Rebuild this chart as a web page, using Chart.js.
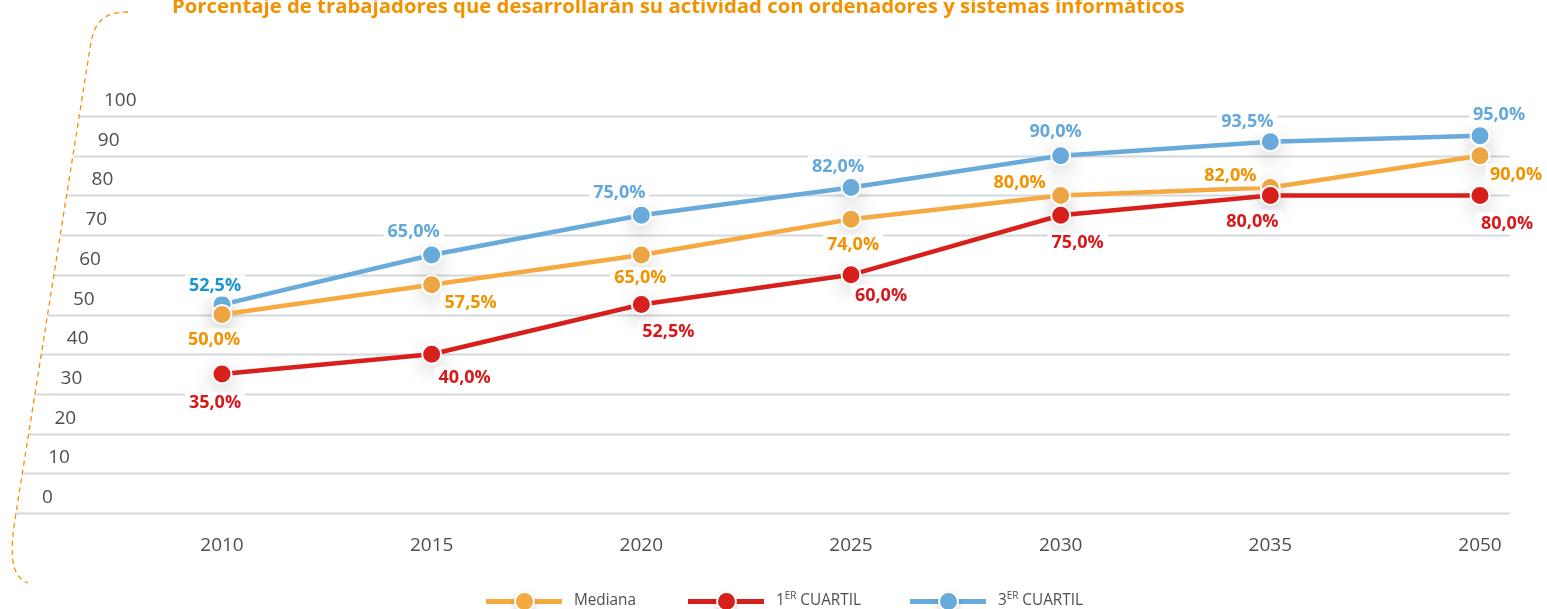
<!DOCTYPE html>
<html>
<head>
<meta charset="utf-8">
<script src="https://cdn.jsdelivr.net/npm/chart.js@4.4.1/dist/chart.umd.min.js"></script>
<style>
html, body { margin: 0; padding: 0; background: #fff; overflow: hidden; }
#wrap { position: relative; width: 1547px; height: 609px; }
#chart { position: absolute; left: 0; top: 0; }
#title { position: absolute; left: 172px; top: -8px; font: bold 20px "Open Sans"; color: #f39200;
         white-space: nowrap; transform-origin: 0 0; }
.key { position: absolute; top: 588px; height: 24px; font: 17px "Open Sans"; color: #4d4e50; white-space: nowrap; }
.key .seg { position: absolute; left: 0; top: 11px; width: 76px; height: 5px; }
.key .dot { position: absolute; left: 28px; top: 3px; width: 17px; height: 17px; border-radius: 50%;
            border: 2px solid #fff; box-shadow: 0 3px 6px rgba(0,0,0,0.18); }
.key .txt { position: absolute; left: 88px; top: -1px; transform-origin: 0 50%; transform: scaleX(0.9); }
.key sup { font-size: 11px; vertical-align: 6px; line-height: 0; }
</style>
</head>
<body>
<div id="wrap">
  <canvas id="chart" width="1547" height="609"></canvas>
  <div id="title">Porcentaje de trabajadores que desarrollarán su actividad con ordenadores y sistemas informáticos</div>
  <div class="key" style="left:486px"><div class="seg" style="background:#f4a941"></div><div class="dot" style="background:#f4a941"></div><span class="txt">Mediana</span></div>
  <div class="key" style="left:688px"><div class="seg" style="background:#d7201b"></div><div class="dot" style="background:#d7201b"></div><span class="txt">1<sup>ER</sup> CUARTIL</span></div>
  <div class="key" style="left:910px"><div class="seg" style="background:#68aad9"></div><div class="dot" style="background:#68aad9"></div><span class="txt">3<sup>ER</sup> CUARTIL</span></div>
</div>
<script>
const years = ['2010', '2015', '2020', '2025', '2030', '2035', '2050'];
const mediana = [50, 57.5, 65, 74, 80, 82, 90];
const cuartil1 = [35, 40, 52.5, 60, 75, 80, 80];
const cuartil3 = [52.5, 65, 75, 82, 90, 93.5, 95];
const yTicks = [0, 10, 20, 30, 40, 50, 60, 70, 80, 90, 100];

// where each value label sits relative to its point (dx, dy)
const offMediana = [[-8, 25], [39, 18], [-1, 23], [2, 26], [-41, -13], [-40, -12], [36, 19]];
const offCuartil1 = [[-7, 29], [33, 24], [27, 27], [30, 21], [17, 28], [-18, 26], [27, 28]];
const offCuartil3 = [[-7, -19], [-18, -23], [-22, -22], [-13, -21], [-5, -24], [-23, -20], [19, -21]];

const fmt = v => v.toFixed(1).replace('.', ',') + '%';

// squeeze the title to its width in the picture
const title = document.getElementById('title');
title.style.transform = 'scaleX(' + (1013 / title.offsetWidth) + ')';

const backdrop = {
    id: 'backdrop',
    beforeDatasetsDraw(chart) {
        const ctx = chart.ctx;
        const y = chart.scales.y;
        const right = chart.chartArea.right + 30;
        ctx.save();
        // gridlines start on the slanted edge
        ctx.strokeStyle = '#d5d8dc';
        ctx.lineWidth = 2;
        ctx.font = '19px "Open Sans"';
        ctx.fillStyle = '#4d4e50';
        ctx.textBaseline = 'middle';
        yTicks.forEach(t => {
            const py = Math.round(y.getPixelForValue(t)) + 0.5;
            ctx.beginPath();
            ctx.moveTo(15 + t * 0.65, py);
            ctx.lineTo(right, py);
            ctx.stroke();
            ctx.fillText(String(t), 42 + t * 0.62, py - 16);
        });
        // dashed bracket on the left
        ctx.strokeStyle = '#f39200';
        ctx.lineWidth = 1.3;
        ctx.setLineDash([5, 4]);
        ctx.beginPath();
        ctx.moveTo(128, 12);
        ctx.bezierCurveTo(104, 12, 95, 22, 91, 42);
        ctx.lineTo(16, 513);
        ctx.bezierCurveTo(10, 550, 9, 576, 28, 583);
        ctx.stroke();
        ctx.setLineDash([]);

        // soft shadows under the markers
        chart.data.datasets.forEach((ds, i) => {
            chart.getDatasetMeta(i).data.forEach(pt => {
                ctx.save();
                ctx.shadowColor = 'rgba(0,0,0,0.25)';
                ctx.shadowBlur = 20;
                ctx.shadowOffsetY = 6;
                ctx.fillStyle = '#fff';
                ctx.beginPath();
                ctx.arc(pt.x, pt.y, 9, 0, Math.PI * 2);
                ctx.fill();
                ctx.restore();
            });
        });
        ctx.restore();
    }
};

const valueLabels = {
    id: 'valueLabels',
    afterDatasetsDraw(chart) {
        const ctx = chart.ctx;
        ctx.save();
        ctx.font = 'bold 18px "Open Sans"';
        ctx.textAlign = 'center';
        ctx.textBaseline = 'middle';
        chart.data.datasets.forEach((ds, i) => {
            chart.getDatasetMeta(i).data.forEach((pt, j) => {
                const txt = fmt(ds.data[j]);
                const x = pt.x + ds.labelOffsets[j][0];
                const y = pt.y + ds.labelOffsets[j][1];
                const w = ctx.measureText(txt).width + 8;
                ctx.fillStyle = '#fff';
                ctx.fillRect(x - w / 2, y - 11, w, 22);
                ctx.fillStyle = (ds.labelColors && ds.labelColors[j]) || ds.labelColor;
                ctx.fillText(txt, x, y);
            });
        });
        ctx.restore();
    }
};

const line = (label, data, color, fill, order) => ({
    label: label,
    data: data,
    borderColor: color,
    backgroundColor: fill,
    pointBackgroundColor: fill,
    pointBorderColor: '#fff',
    pointBorderWidth: 2,
    pointRadius: 9.5,
    borderWidth: 4.5,
    tension: 0,
    clip: false,
    order: order
});

const dsMediana = line('Mediana', mediana, '#f4a941', '#eda443', 1);
dsMediana.labelOffsets = offMediana;
dsMediana.labelColor = '#f39200';

const dsC1 = line('1er cuartil', cuartil1, '#d7201b', '#d7201b', 0);
dsC1.labelOffsets = offCuartil1;
dsC1.labelColor = '#d7191c';

const dsC3 = line('3er cuartil', cuartil3, '#68aad9', '#68aad9', 2);
dsC3.labelOffsets = offCuartil3;
dsC3.labelColor = '#63a8da';
dsC3.labelColors = ['#1c96d3'];

new Chart(document.getElementById('chart'), {
    type: 'line',
    data: { labels: years, datasets: [dsMediana, dsC1, dsC3] },
    options: {
        responsive: false,
        animation: false,
        layout: { padding: { left: 222, right: 67, top: 116, bottom: 46 } },
        scales: {
            x: {
                offset: false,
                grid: { display: false, drawTicks: false },
                border: { display: false },
                ticks: { color: '#4d4e50', font: { family: 'Open Sans', size: 19 }, padding: 21, maxRotation: 0 },
                afterFit: s => { s.height = 50; }
            },
            y: { display: false, min: 0, max: 100 }
        },
        plugins: { legend: { display: false }, tooltip: { enabled: false } }
    },
    plugins: [backdrop, valueLabels]
});
</script>
</body>
</html>
